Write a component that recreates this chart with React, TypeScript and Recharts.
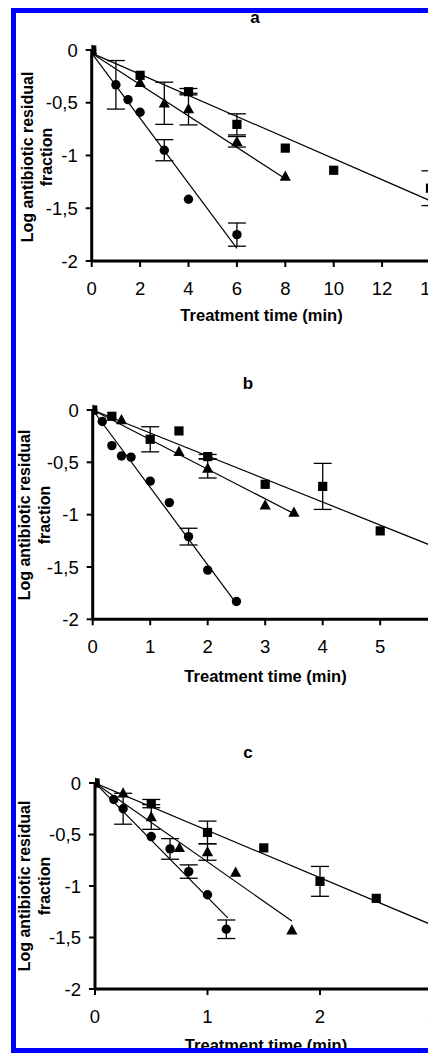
import React from 'react';
import { ScatterChart, Scatter, XAxis, YAxis, ErrorBar } from 'recharts';

// ---------- Panel a ----------
const aCircleT = [0, 1, 1.5, 2, 3, 4, 6];
const aCircleY = [0, -0.33, -0.47, -0.59, -0.95, -1.415, -1.75];
const aCircleE = [0, 0.23, 0, 0, 0.1, 0, 0.11];
const aTriT = [0, 2, 3, 4, 6, 8];
const aTriY = [0, -0.31, -0.505, -0.56, -0.87, -1.2];
const aTriE = [0, 0, 0.2, 0.15, 0.05, 0];
const aSqT = [0, 2, 4, 6, 8, 10, 14];
const aSqY = [0, -0.24, -0.395, -0.705, -0.93, -1.14, -1.31];
const aSqE = [0, 0, 0.03, 0.1, 0, 0, 0.165];
const aFitCircleT = [0, 6];
const aFitCircleY = [-0.03, -1.88];
const aFitTriT = [0, 8];
const aFitTriY = [-0.03, -1.22];
const aFitSqT = [0, 14];
const aFitSqY = [-0.03, -1.43];
const aTicksX = [0, 2, 4, 6, 8, 10, 12, 14];

// ---------- Panel b ----------
const bCircleT = [0, 0.167, 0.333, 0.5, 0.667, 1, 1.333, 1.667, 2, 2.5];
const bCircleY = [0, -0.11, -0.34, -0.44, -0.45, -0.68, -0.885, -1.21, -1.53, -1.83];
const bCircleE = [0, 0, 0, 0, 0, 0, 0, 0.08, 0, 0];
const bTriT = [0, 0.5, 1.5, 2, 3, 3.5];
const bTriY = [0, -0.095, -0.4, -0.56, -0.91, -0.98];
const bTriE = [0, 0, 0, 0.09, 0, 0];
const bSqT = [0, 0.333, 1, 1.5, 2, 3, 4, 5];
const bSqY = [0, -0.06, -0.28, -0.2, -0.445, -0.71, -0.73, -1.155];
const bSqE = [0, 0, 0.12, 0, 0.02, 0, 0.22, 0];
const bFitCircleT = [0, 2.5];
const bFitCircleY = [0, -1.85];
const bFitTriT = [0, 3.5];
const bFitTriY = [0, -0.99];
const bFitSqT = [0, 6];
const bFitSqY = [0, -1.32];
const bTicksX = [0, 1, 2, 3, 4, 5, 6];

// ---------- Panel c ----------
const cCircleT = [0, 0.167, 0.25, 0.5, 0.667, 0.833, 1, 1.167];
const cCircleY = [0, -0.16, -0.25, -0.52, -0.64, -0.86, -1.085, -1.42];
const cCircleE = [0, 0, 0.15, 0, 0.1, 0.065, 0, 0.09];
const cTriT = [0, 0.25, 0.5, 0.75, 1, 1.25, 1.75];
const cTriY = [0, -0.1, -0.33, -0.63, -0.67, -0.87, -1.43];
const cTriE = [0, 0, 0.12, 0, 0.08, 0, 0];
const cSqT = [0, 0.5, 1, 1.5, 2, 2.5];
const cSqY = [0, -0.2, -0.48, -0.63, -0.955, -1.12];
const cSqE = [0, 0.04, 0.11, 0, 0.145, 0];
const cFitCircleT = [0, 1.18];
const cFitCircleY = [0, -1.31];
const cFitTriT = [0, 1.75];
const cFitTriY = [0, -1.34];
const cFitSqT = [0, 3];
const cFitSqY = [0, -1.38];
const cTicksX = [0, 1, 2, 3];

const yTicks = [-2, -1.5, -1, -0.5, 0];
const yDomain: [number, number] = [-2, 0];

const FONT = "'Liberation Sans', Arial, Helvetica, sans-serif";

type Pt = { t: number; y: number; e?: number };
const pts = (t: number[], y: number[], e?: number[]): Pt[] =>
  t.map((v, i) => ({ t: v, y: y[i], e: e ? e[i] : 0 }));

const CircleShape = (p: any) =>
  p.cx == null ? <g /> : <circle cx={p.cx} cy={p.cy} r={4.7} fill="#000" />;
const SquareShape = (p: any) =>
  p.cx == null ? <g /> : <rect x={p.cx - 4.6} y={p.cy - 4.6} width={9.2} height={9.2} fill="#000" />;
const TriShape = (p: any) =>
  p.cx == null ? (
    <g />
  ) : (
    <polygon
      points={`${p.cx},${p.cy - 6} ${p.cx - 5.6},${p.cy + 4.2} ${p.cx + 5.6},${p.cy + 4.2}`}
      fill="#000"
    />
  );
const NoShape = () => <g />;

type PanelProps = {
  top: number;
  width: number;
  height: number;
  right: number;
  yAxisWidth: number;
  xDomain: [number, number];
  xTicks: number[];
  circles: Pt[];
  tris: Pt[];
  squares: Pt[];
  fits: Pt[][];
};

const Panel = (p: PanelProps) => (
  <div style={{ position: 'absolute', left: 0, top: p.top }}>
    <ScatterChart
      width={p.width}
      height={p.height}
      margin={{ top: 50, right: p.right, bottom: 0, left: 0 }}
    >
      <XAxis
        type="number"
        dataKey="t"
        domain={p.xDomain}
        ticks={p.xTicks}
        interval={0}
        allowDataOverflow
        height={40}
        axisLine={{ stroke: '#000', strokeWidth: 3 }}
        tickLine={{ stroke: '#000', strokeWidth: 2 }}
        tickSize={6}
        tickMargin={15}
        tick={{ fill: '#000', fontSize: 18.5, fontFamily: FONT }}
      />
      <YAxis
        type="number"
        dataKey="y"
        domain={yDomain}
        ticks={yTicks}
        interval={0}
        width={p.yAxisWidth}
        axisLine={{ stroke: '#000', strokeWidth: 3 }}
        tickLine={{ stroke: '#000', strokeWidth: 2 }}
        tickSize={6}
        tickMargin={8}
        tickFormatter={(v: number) => String(v).replace('.', ',')}
        tick={{ fill: '#000', fontSize: 18.5, fontFamily: FONT }}
      />
      {p.fits.map((f, i) => (
        <Scatter
          key={'fit' + i}
          data={f}
          line={{ stroke: '#000', strokeWidth: 1.2 }}
          shape={NoShape}
          isAnimationActive={false}
          legendType="none"
        />
      ))}
      <Scatter data={p.squares} shape={SquareShape} isAnimationActive={false}>
        <ErrorBar dataKey="e" direction="y" width={9} stroke="#000" strokeWidth={1.3} />
      </Scatter>
      <Scatter data={p.tris} shape={TriShape} isAnimationActive={false}>
        <ErrorBar dataKey="e" direction="y" width={9} stroke="#000" strokeWidth={1.3} />
      </Scatter>
      <Scatter data={p.circles} shape={CircleShape} isAnimationActive={false}>
        <ErrorBar dataKey="e" direction="y" width={9} stroke="#000" strokeWidth={1.3} />
      </Scatter>
    </ScatterChart>
  </div>
);

export default function App() {
  return (
    <div
      style={{
        position: 'absolute',
        left: 0,
        top: 0,
        width: 428,
        height: 1053,
        overflow: 'hidden',
        background: '#fff',
      }}
    >
      <Panel
        top={0}
        width={440}
        height={301}
        right={9.5}
        yAxisWidth={91.7}
        xDomain={[0, 14]}
        xTicks={aTicksX}
        circles={pts(aCircleT, aCircleY, aCircleE)}
        tris={pts(aTriT, aTriY, aTriE)}
        squares={pts(aSqT, aSqY, aSqE)}
        fits={[pts(aFitCircleT, aFitCircleY), pts(aFitTriT, aFitTriY), pts(aFitSqT, aFitSqY)]}
      />
      <Panel
        top={360}
        width={445}
        height={299.3}
        right={7.3}
        yAxisWidth={92.7}
        xDomain={[0, 6]}
        xTicks={bTicksX}
        circles={pts(bCircleT, bCircleY, bCircleE)}
        tris={pts(bTriT, bTriY, bTriE)}
        squares={pts(bSqT, bSqY, bSqE)}
        fits={[pts(bFitCircleT, bFitCircleY), pts(bFitTriT, bFitTriY), pts(bFitSqT, bFitSqY)]}
      />
      <Panel
        top={733.3}
        width={440}
        height={296}
        right={7.5}
        yAxisWidth={95}
        xDomain={[0, 3]}
        xTicks={cTicksX}
        circles={pts(cCircleT, cCircleY, cCircleE)}
        tris={pts(cTriT, cTriY, cTriE)}
        squares={pts(cSqT, cSqY, cSqE)}
        fits={[pts(cFitCircleT, cFitCircleY), pts(cFitTriT, cFitTriY), pts(cFitSqT, cFitSqY)]}
      />
      <svg
        width={428}
        height={1053}
        style={{ position: 'absolute', left: 0, top: 0, pointerEvents: 'none' }}
        fontFamily={FONT}
        fontWeight="bold"
        fill="#000"
      >
        <text x={255} y={23} fontSize={17} textAnchor="middle">a</text>
        <text x={248} y={389} fontSize={17} textAnchor="middle">b</text>
        <text x={248} y={758} fontSize={17} textAnchor="middle">c</text>

        <text x={261.5} y={320.5} fontSize={16.5} textAnchor="middle">Treatment time (min)</text>
        <text x={265.5} y={681.5} fontSize={16.5} textAnchor="middle">Treatment time (min)</text>
        <text x={266} y={1051} fontSize={16.5} textAnchor="middle">Treatment time (min)</text>

        <g transform="translate(32.5,157) rotate(-90)">
          <text x={0} y={0} fontSize={16} textAnchor="middle">Log antibiotic residual</text>
        </g>
        <g transform="translate(51.5,157) rotate(-90)">
          <text x={0} y={0} fontSize={16} textAnchor="middle">fraction</text>
        </g>
        <g transform="translate(29.5,515) rotate(-90)">
          <text x={0} y={0} fontSize={16} textAnchor="middle">Log antibiotic residual</text>
        </g>
        <g transform="translate(50,515) rotate(-90)">
          <text x={0} y={0} fontSize={16} textAnchor="middle">fraction</text>
        </g>
        <g transform="translate(29.5,886) rotate(-90)">
          <text x={0} y={0} fontSize={16} textAnchor="middle">Log antibiotic residual</text>
        </g>
        <g transform="translate(50,886) rotate(-90)">
          <text x={0} y={0} fontSize={16} textAnchor="middle">fraction</text>
        </g>
      </svg>
      <div
        style={{
          position: 'absolute',
          left: 11,
          top: 8,
          width: 440,
          height: 1045,
          border: '5px solid #0000ff',
          boxSizing: 'border-box',
          pointerEvents: 'none',
        }}
      />
    </div>
  );
}
